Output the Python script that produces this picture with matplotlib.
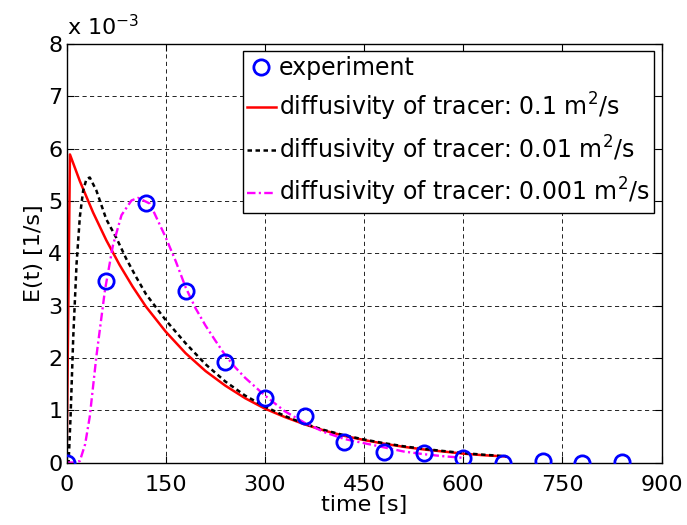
import matplotlib
matplotlib.use("Agg")
import matplotlib.pyplot as plt

plt.rcParams['font.family'] = ['DejaVu Sans']
plt.rcParams['mathtext.fontset'] = 'dejavusans'

# experiment (E in units of 1e-3 1/s)
t_exp = [0, 60, 120, 180, 240, 300, 360, 420, 480, 540, 600, 660, 720, 780, 840]
E_exp = [0.0, 3.47, 4.97, 3.27, 1.93, 1.23, 0.89, 0.39, 0.21, 0.19, 0.09, 0.0, 0.02, 0.0, 0.01]

# diffusivity 0.1 m2/s
t_01 = [0, 5, 20, 40, 60, 80, 100, 120, 150, 180, 210, 240, 270, 300, 330, 360,
        390, 420, 450, 480, 510, 540, 570, 600, 630, 665]
E_01 = [0.0, 5.89, 5.38, 4.78, 4.25, 3.78, 3.36, 2.98, 2.50, 2.09, 1.75, 1.47, 1.23,
        1.03, 0.87, 0.73, 0.61, 0.51, 0.43, 0.36, 0.30, 0.25, 0.21, 0.17, 0.14, 0.115]

# diffusivity 0.01 m2/s
t_001 = [0, 3, 6, 10, 15, 20, 25, 30, 35, 45, 60, 75, 90, 105, 120, 150, 180, 210,
         240, 270, 300, 330, 360, 390, 420, 450, 480, 510, 540, 570, 600, 630, 665]
E_001 = [0.0, 0.0, 0.9, 2.4, 3.8, 4.7, 5.2, 5.42, 5.45, 5.2, 4.65, 4.3, 3.9, 3.55,
         3.22, 2.72, 2.28, 1.88, 1.55, 1.28, 1.07, 0.89, 0.74, 0.62, 0.52, 0.44,
         0.37, 0.31, 0.26, 0.22, 0.18, 0.15, 0.12]

# diffusivity 0.001 m2/s
t_0001 = [0, 12, 20, 28, 35, 45, 58, 70, 83, 98, 108, 126, 150, 165, 180, 195, 210,
          225, 240, 255, 270, 285, 300, 330, 360, 390, 420, 450, 480, 510, 540, 570, 600]
E_0001 = [0.0, 0.0, 0.03, 0.35, 0.88, 2.03, 3.30, 4.15, 4.73, 5.01, 5.06, 4.95, 4.30,
          3.85, 3.35, 2.95, 2.62, 2.33, 2.05, 1.82, 1.62, 1.45, 1.28, 0.98, 0.76,
          0.58, 0.45, 0.37, 0.29, 0.21, 0.16, 0.12, 0.09]

fig = plt.figure(figsize=(6.87, 5.25), dpi=100)
ax = fig.add_axes([0.097, 0.119, 0.866, 0.797])

ax.plot(t_exp, E_exp, 'o', color='blue', mfc='none', ms=11, mew=2, label='experiment', zorder=5)
ax.plot(t_01, E_01, '-', color='red', lw=1.8, label='diffusivity of tracer: 0.1 m$^2$/s')
ax.plot(t_001, E_001, '--', color='black', lw=1.8, dashes=(1.8, 1.4),
        label='diffusivity of tracer: 0.01 m$^2$/s')
ax.plot(t_0001, E_0001, '-.', color='magenta', lw=1.7, dashes=(3.6, 1.4, 0.9, 1.4),
        label='diffusivity of tracer: 0.001 m$^2$/s')

ax.set_xlim(0, 900)
ax.set_ylim(0, 8)
ax.set_xticks(range(0, 901, 150))
ax.set_yticks(range(0, 9))
ax.tick_params(direction='in', top=True, right=True, labelsize=16, length=5, pad=3)
ax.tick_params(axis='x', pad=9)
ax.grid(True, color='black', linestyle=(0, (5, 4)), lw=0.6)
for s in ax.spines.values():
    s.set_linewidth(1.0)

ax.text(0.0, 1.012, r'x 10$^{-3}$', transform=ax.transAxes, fontsize=16,
        ha='left', va='bottom')

ax.set_xlabel('time [s]', fontsize=16, labelpad=0)
ax.set_ylabel('E(t) [1/s]', fontsize=16, labelpad=3)

leg = ax.legend(loc='upper right', fontsize=17, fancybox=False, framealpha=1,
                edgecolor='black', handlelength=1.2, handletextpad=0.15,
                borderpad=0.2, labelspacing=0.45, borderaxespad=0.3)
leg.get_frame().set_linewidth(1.0)

fig.savefig('out.png', dpi=100)
